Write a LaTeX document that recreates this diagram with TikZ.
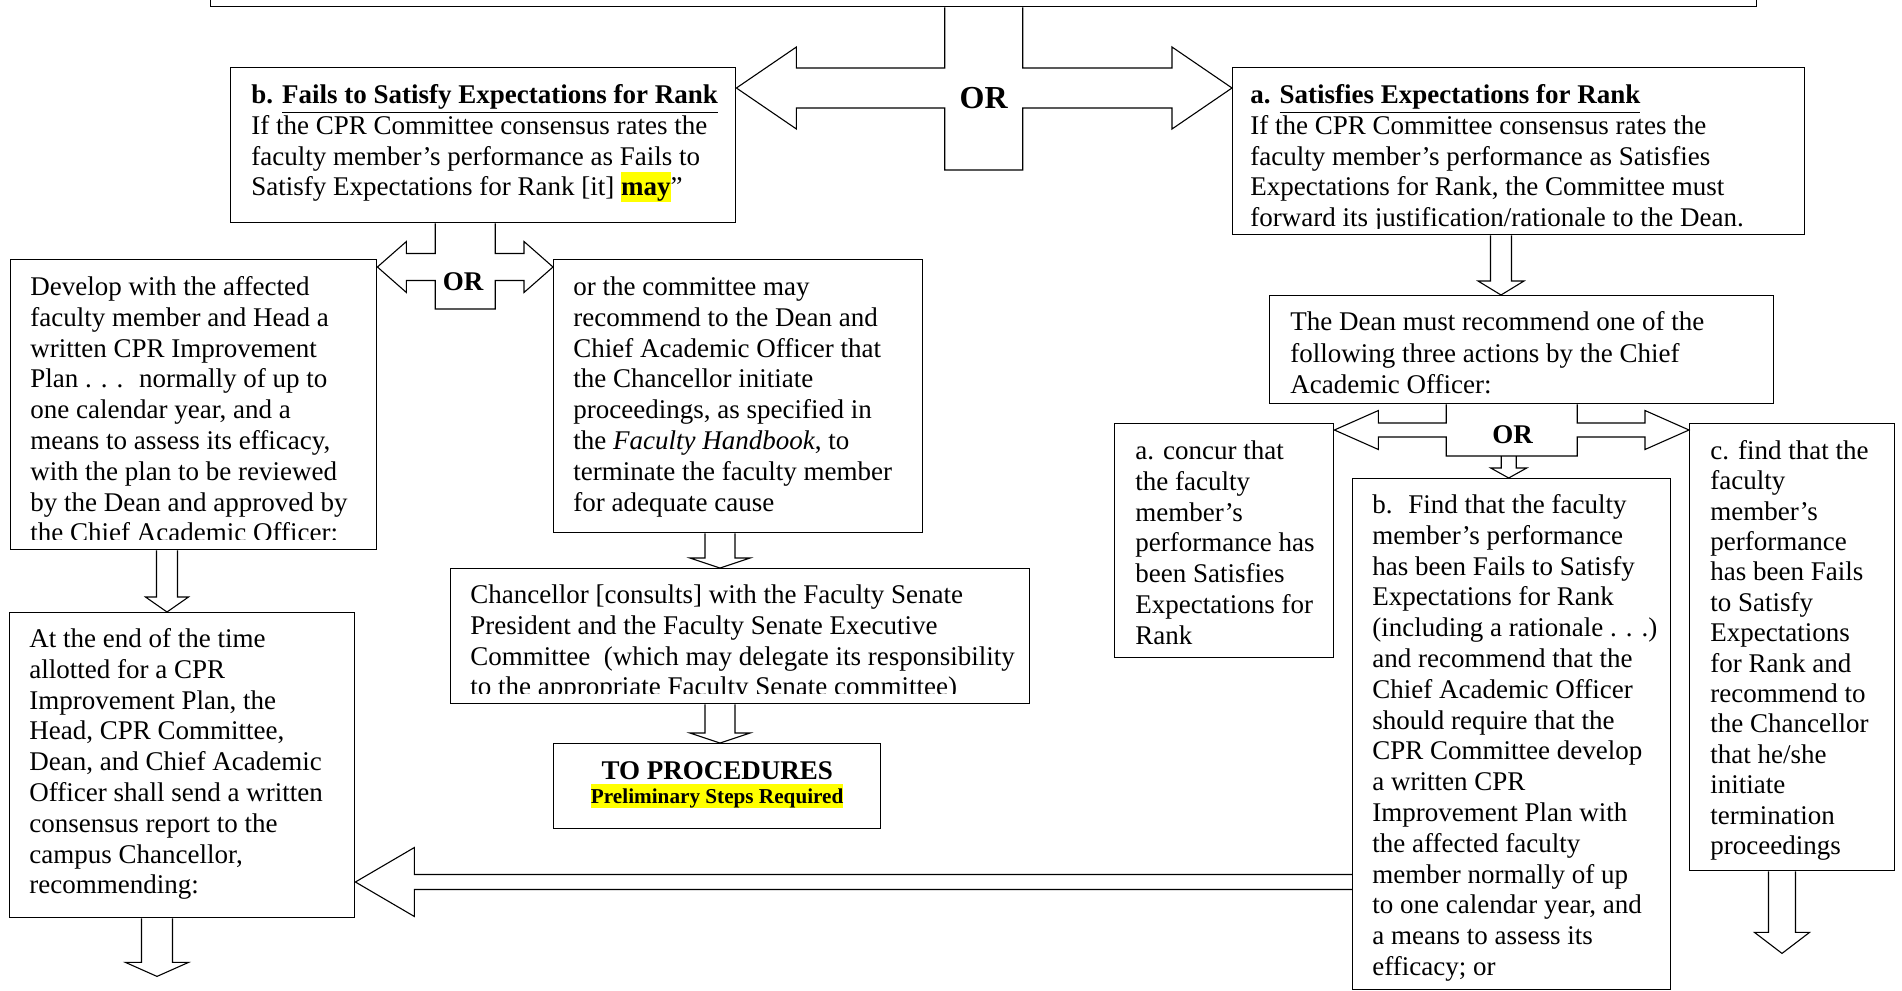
\documentclass[tikz,border=0pt]{standalone}
\usepackage{fontspec}
\setmainfont{Liberation Serif}
\usepackage{xcolor}
\usetikzlibrary{calc}
\definecolor{hlyellow}{RGB}{255,255,0}
\newdimen\pxu \pxu=0.5pt
\newcommand{\hlt}[1]{{\setlength{\fboxsep}{0pt}\colorbox{hlyellow}{\rule[-0.24em]{0pt}{1.14em}#1}}}
% hollow block arrows: start, end, stem half, head half, head length
\newcommand{\blkv}[5]{%
  \draw[blk] let \p1=(#1), \p2=(#2) in
    (\x1-#3,\y1) -- (\x1-#3,\y2+#5) -- (\x1-#4,\y2+#5) -- (\x1,\y2)
    -- (\x1+#4,\y2+#5) -- (\x1+#3,\y2+#5) -- (\x1+#3,\y1);}
\newcommand{\blkh}[5]{%
  \draw[blk] let \p1=(#1), \p2=(#2) in
    (\x1,\y1+#3) -- (\x2+#5,\y1+#3) -- (\x2+#5,\y1+#4) -- (\x2,\y1)
    -- (\x2+#5,\y1-#4) -- (\x2+#5,\y1-#3) -- (\x1,\y1-#3);}
% stem top, left tip, right tip, stem half, stem drop, shaft half, head half, head length
\newcommand{\blkcross}[8]{%
  \draw[blk] let \p1=(#1), \p2=(#2), \p3=(#3) in
    (\x1-#4,\y1) -- (\x1-#4,\y2+#6) -- (\x2+#8,\y2+#6) -- (\x2+#8,\y2+#7) -- (\x2,\y2)
    -- (\x2+#8,\y2-#7) -- (\x2+#8,\y2-#6) -- (\x1-#4,\y2-#6) -- (\x1-#4,\y2-#5)
    -- (\x1+#4,\y2-#5) -- (\x1+#4,\y2-#6) -- (\x3-#8,\y2-#6) -- (\x3-#8,\y2-#7) -- (\x3,\y2)
    -- (\x3-#8,\y2+#7) -- (\x3-#8,\y2+#6) -- (\x1+#4,\y2+#6) -- (\x1+#4,\y1);}
\tikzset{
  box/.style={draw, line width=0.7pt, anchor=north west, inner sep=0pt},
  txt/.style={anchor=north west, inner sep=0pt, align=left, font=\fontsize{13.5}{15.4}\selectfont},
  blk/.style={draw, line width=0.55pt, line join=miter},
  orlbl/.style={font=\fontsize{13.5}{15}\selectfont\bfseries, inner sep=1pt},
}

\begin{document}
\begin{tikzpicture}[x=0.5pt, y=-0.5pt]
  \useasboundingbox (0,0) rectangle (1902,991);
  \clip (0,0) rectangle (1902,991);

  % boxes
  \node[box, minimum width=1546\pxu, minimum height=60\pxu] (top) at (210,-54) {};
  \node[box, minimum width=505\pxu, minimum height=155\pxu] (bfail) at (230,67) {};
  \node[box, minimum width=572\pxu, minimum height=167\pxu] (asat) at (1232,67) {};
  \node[box, minimum width=366\pxu, minimum height=290\pxu] (dev) at (10,259) {};
  \node[box, minimum width=369\pxu, minimum height=273\pxu] (orcom) at (553,259) {};
  \node[box, minimum width=345\pxu, minimum height=305\pxu] (atend) at (9,612) {};
  \node[box, minimum width=579\pxu, minimum height=135\pxu] (chanc) at (450,568) {};
  \node[box, minimum width=327\pxu, minimum height=85\pxu] (proc) at (553,743) {};
  \node[box, minimum width=504\pxu, minimum height=108\pxu] (dean) at (1269,295) {};
  \node[box, minimum width=219\pxu, minimum height=234\pxu] (a2) at (1114,423) {};
  \node[box, minimum width=318\pxu, minimum height=511\pxu] (b2) at (1352,478) {};
  \node[box, minimum width=205\pxu, minimum height=447\pxu] (c2) at (1689,423) {};

  % texts
  \node[txt] (bfailtext) at ($(bfail.north west)+(21,14.6)$) {\strut\textbf{b. \underline{Fails to Satisfy Expectations for Rank}}\\
    If the CPR Committee consensus rates the\\
    faculty member’s performance as Fails to\\
    Satisfy Expectations for Rank [it] \hlt{\textbf{may}}”};
  \begin{scope}
    \clip (asat.north west) rectangle ($(asat.south east)+(0,-7)$);
    \node[txt] (asattext) at ($(asat.north west)+(18,14.6)$) {\strut\textbf{a. \underline{Satisfies Expectations for Rank}}\\
      If the CPR Committee consensus rates the\\
      faculty member’s performance as Satisfies\\
      Expectations for Rank, the Committee must\\
      forward its justification/rationale to the Dean.};
  \end{scope}
  \begin{scope}
    \clip (dev.north west) rectangle ($(dev.south east)+(0,-11)$);
    \node[txt] (devtext) at ($(dev.north west)+(20,14.6)$) {\strut Develop with the affected\\
      faculty member and Head a\\
      written CPR Improvement\\
      Plan . . .~ normally of up to\\
      one calendar year, and a\\
      means to assess its efficacy,\\
      with the plan to be reviewed\\
      by the Dean and approved by\\
      the Chief Academic Officer:};
  \end{scope}
  \node[txt] (orcomtext) at ($(orcom.north west)+(20,14.6)$) {\strut or the committee may\\
    recommend to the Dean and\\
    Chief Academic Officer that\\
    the Chancellor initiate\\
    proceedings, as specified in\\
    the \textit{Faculty Handbook}, to\\
    terminate the faculty member\\
    for adequate cause};
  \node[txt] (atendtext) at ($(atend.north west)+(20,13.6)$) {\strut At the end of the time\\
    allotted for a CPR\\
    Improvement Plan, the\\
    Head, CPR Committee,\\
    Dean, and Chief Academic\\
    Officer shall send a written\\
    consensus report to the\\
    campus Chancellor,\\
    recommending:};
  \begin{scope}
    \clip (chanc.north west) rectangle ($(chanc.south east)+(0,-11)$);
    \node[txt] (chanctext) at ($(chanc.north west)+(20,13.6)$) {\strut Chancellor [consults] with the Faculty Senate\\
      President and the Faculty Senate Executive\\
      Committee~ (which may delegate its responsibility\\
      to the appropriate Faculty Senate committee)};
  \end{scope}
  \node[font=\fontsize{13.5}{15}\selectfont\bfseries, anchor=base, inner sep=0pt] (proctitle) at ($(proc.north)+(0,36)$) {TO PROCEDURES};
  \node[font=\fontsize{10.6}{12}\selectfont\bfseries, anchor=base, inner sep=0pt] (procsub) at ($(proc.north)+(0,60)$) {\hlt{Preliminary Steps Required}};
  \node[txt, font=\fontsize{13.5}{15.8}\selectfont] (deantext) at ($(dean.north west)+(21,13)$) {\strut The Dean must recommend one of the\\
    following three actions by the Chief\\
    Academic Officer:};
  \node[txt] (a2text) at ($(a2.north west)+(21,14.6)$) {\strut a. concur that\\
    the faculty\\
    member’s\\
    performance has\\
    been Satisfies\\
    Expectations for\\
    Rank};
  \node[txt] (b2text) at ($(b2.north west)+(20,13.6)$) {\strut b.~ Find that the faculty\\
    member’s performance\\
    has been Fails to Satisfy\\
    Expectations for Rank\\
    (including a rationale . . .)\\
    and recommend that the\\
    Chief Academic Officer\\
    should require that the\\
    CPR Committee develop\\
    a written CPR\\
    Improvement Plan with\\
    the affected faculty\\
    member normally of up\\
    to one calendar year, and\\
    a means to assess its\\
    efficacy; or};
  \node[txt, font=\fontsize{13.5}{15.2}\selectfont] (c2text) at ($(c2.north west)+(21,14.6)$) {\strut c. find that the\\
    faculty\\
    member’s\\
    performance\\
    has been Fails\\
    to Satisfy\\
    Expectations\\
    for Rank and\\
    recommend to\\
    the Chancellor\\
    that he/she\\
    initiate\\
    termination\\
    proceedings};

  % OR crosses
  \blkcross{top.south}{$(bfail.north east)+(0,21)$}{asat.west}{19.5pt}{41pt}{10pt}{20.5pt}{30pt}
  \blkcross{$(bfail.south)+(-18,0)$}{$(dev.north east)+(0,8)$}{orcom.west}{15pt}{21pt}{6.75pt}{12.75pt}{14.5pt}
  \blkcross{$(dean.south)+(-10,0)$}{$(a2.north east)+(0,7)$}{c2.west}{32.75pt}{13pt}{3.5pt}{9.75pt}{22pt}
  \node[orlbl, font=\fontsize{16}{18}\selectfont\bfseries] (or1) at ($(top.south)+(0,91)$) {OR};
  \node[orlbl] (or2) at ($(bfail.south)+(-20,58)$) {OR};
  \node[orlbl] (or3) at ($(dean.south)+(-9,30)$) {OR};

  % down arrows
  \coordinate (outA) at ($(atend.south west)+(148,58)$);
  \coordinate (outC) at ($(c2.south west)+(93,82)$);
  \blkv{$(dev.south west)+(157,0)$}{atend.north}{5.25pt}{10.75pt}{7.5pt}
  \blkv{$(atend.south west)+(148,0)$}{outA}{7.75pt}{15.75pt}{7pt}
  \blkv{$(orcom.south west)+(167,0)$}{chanc.north}{7.5pt}{15pt}{5pt}
  \blkv{$(chanc.south west)+(270,0)$}{proc.north}{7.5pt}{15pt}{5pt}
  \blkv{$(asat.south west)+(269,0)$}{dean.north}{5.25pt}{11.5pt}{7pt}
  \blkv{$(b2.north)+(-3,-22)$}{b2.north}{3.75pt}{9pt}{5pt}
  \blkv{$(c2.south west)+(93,0)$}{outC}{6.75pt}{13.75pt}{10.5pt}
  \blkh{$(b2.north west)+(0,404)$}{atend.east}{3.75pt}{17.25pt}{29.5pt}
\end{tikzpicture}
\end{document}
